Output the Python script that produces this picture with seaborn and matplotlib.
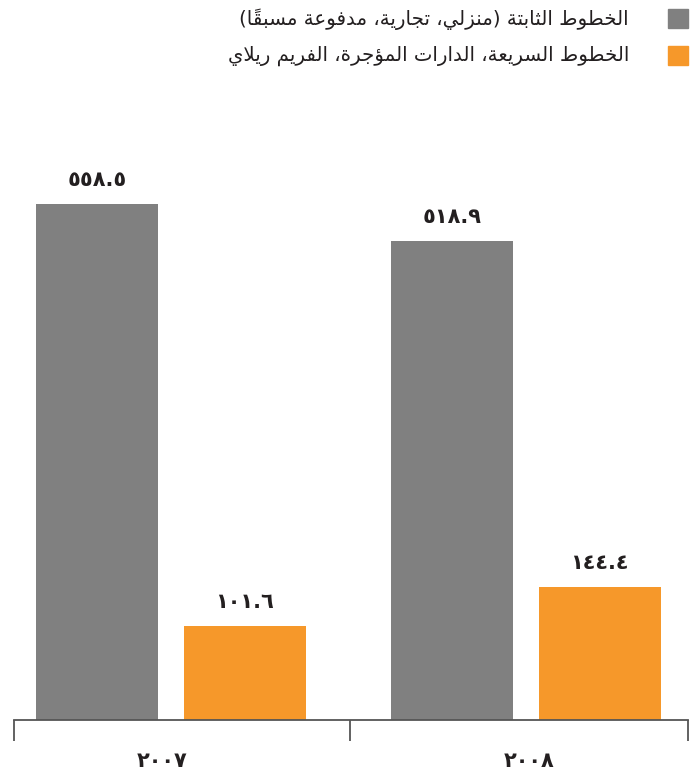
import pandas as pd
import numpy as np
import matplotlib
matplotlib.use('Agg')
import matplotlib.pyplot as plt
import matplotlib.patches as mpatches
import seaborn as sns

# Datos
years = ['2007', '2008']
series = ['الخطوط الثابتة (منزلي، تجارية، مدفوعة مسبقاً)',
          'الخطوط السريعة، الدارات المؤجرة، الفريم ريلاي']
fixed_lines = [558.5, 518.9]
fast_lines = [101.6, 144.4]
colors = ['#808080', '#F6982A']

# Conformado del texto árabe (matplotlib no lo hace)
# letra: (aislada, se une por ambos lados)
FORMS = {
    'ا': (0xFE8D, False), 'ؤ': (0xFE85, False), 'ب': (0xFE8F, True),
    'ة': (0xFE93, False), 'ت': (0xFE95, True), 'ث': (0xFE99, True),
    'ج': (0xFE9D, True), 'خ': (0xFEA5, True), 'د': (0xFEA9, False),
    'ر': (0xFEAD, False), 'ز': (0xFEAF, False), 'س': (0xFEB1, True),
    'ط': (0xFEC1, True), 'ع': (0xFEC9, True), 'ف': (0xFED1, True),
    'ق': (0xFED5, True), 'ل': (0xFEDD, True), 'م': (0xFEE1, True),
    'ن': (0xFEE5, True), 'ه': (0xFEE9, True), 'و': (0xFEED, False),
    'ي': (0xFEF1, True),
}
MARKS = {'\u064B'}


def shape(text):
    chars = list(text)
    out = []  # clusters
    i = 0
    prev_dual = False
    while i < len(chars):
        c = chars[i]
        if c in MARKS:
            if out:
                out[-1] += c
            i += 1
            continue
        if c not in FORMS:
            out.append(c)
            prev_dual = False
            i += 1
            continue
        # siguiente letra (saltando marcas)
        j = i + 1
        while j < len(chars) and chars[j] in MARKS:
            j += 1
        nxt = chars[j] if j < len(chars) else None
        if c == 'ل' and nxt == 'ا':
            glyph = chr(0xFEFC if prev_dual else 0xFEFB)
            out.append(glyph)
            prev_dual = False
            i = j + 1
            continue
        base, dual = FORMS[c]
        joins_next = dual and nxt in FORMS
        if prev_dual and joins_next:
            g = base + 3
        elif prev_dual:
            g = base + 1
        elif joins_next:
            g = base + 2
        else:
            g = base
        out.append(chr(g))
        prev_dual = dual
        i += 1
    swap = {'(': ')', ')': '('}
    return ''.join(swap.get(c, c) for c in reversed(out))


def arabic_digits(s):
    return s.translate(str.maketrans('0123456789', '٠١٢٣٤٥٦٧٨٩'))


df = pd.DataFrame({
    'year': years * 2,
    'series': [series[0]] * 2 + [series[1]] * 2,
    'value': fixed_lines + fast_lines,
})

plt.rcParams['font.family'] = ['DejaVu Sans']
fig = plt.figure(figsize=(6.93, 7.74), dpi=100)
ax = fig.add_axes([14 / 693, 54 / 774, 674 / 693, 554 / 774])

sns.barplot(data=df, x='year', y='value', hue='series', palette=colors,
            width=0.834, gap=0.175, legend=False, ax=ax, saturation=1)

for cont in ax.containers:
    labels = [arabic_digits(f'{b.get_height():.1f}') for b in cont]
    ax.bar_label(cont, labels=labels, padding=10, fontsize=15,
                 fontweight='bold', color='#231F20')

ax.set_ylim(0, 600)
ax.set_xlim(-0.442, 1.457)
ax.set_yticks([])
ax.set_xticks([-0.025, 1.01])
ax.set_xticklabels([arabic_digits(y) for y in years], fontsize=15,
                   fontweight='bold', color='#231F20')
ax.tick_params(axis='x', which='major', length=0, pad=22)
ax.set_xticks([-0.442, 0.504, 1.457], minor=True)
ax.tick_params(axis='x', which='minor', length=15, width=1.3, color='#555555')
ax.set_xlabel('')
ax.set_ylabel('')
for s in ['top', 'left', 'right']:
    ax.spines[s].set_visible(False)
ax.spines['bottom'].set_color('#555555')
ax.spines['bottom'].set_linewidth(1.3)

# Leyenda manual (texto alineado a la derecha)
for k, (lab, col) in enumerate(zip(series, colors)):
    ytop = [9, 46][k]
    fig.add_artist(mpatches.Rectangle((668 / 693, 1 - (ytop + 19) / 774),
                                      20 / 693, 19 / 774, color=col,
                                      transform=fig.transFigure))
    fig.text(629 / 693, 1 - (ytop + 10) / 774, shape(lab), ha='right',
             va='center', fontsize=14.2, color='#231F20')

plt.savefig('out.png', dpi=100)
